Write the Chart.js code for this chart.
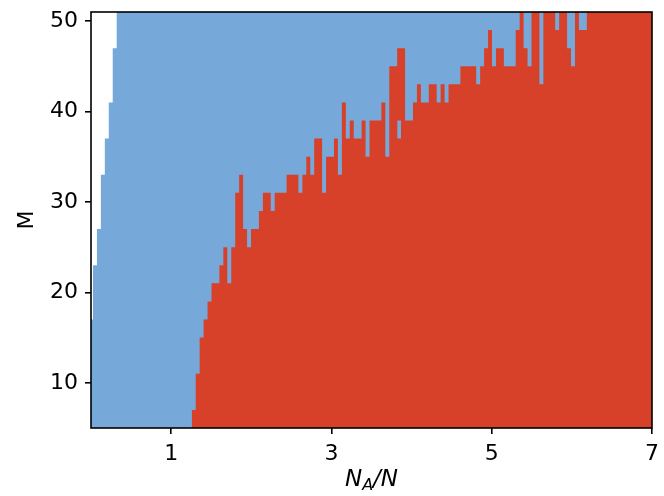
<!DOCTYPE html>
<html lang="en">
<head>
  <meta charset="UTF-8">
  <title>M vs N_A/N</title>
  <script src="https://cdn.jsdelivr.net/npm/chart.js"></script>
  <style>
    body {
      margin: 0;
      background: #fff;
    }

    #wrap {
      width: 664px;
      height: 496px;
    }
  </style>
</head>
<body>
  <div id="wrap"><canvas id="chart" width="664" height="496"></canvas></div>

  <script>
    // N_A/N scan: 143 columns from 0 to 7
    const ratioStep = 7 / 142;
    const ratioMax = 7;

    // upper edge (in M) of the blue region, column by column
    const blueTop = [
      17, 23, 27, 33, 37, 41, 47, 51, 51, 51,
      51, 51, 51, 51, 51, 51, 51, 51, 51, 51,
      51, 51, 51, 51, 51, 51, 51, 51, 51, 51,
      51, 51, 51, 51, 51, 51, 51, 51, 51, 51,
      51, 51, 51, 51, 51, 51, 51, 51, 51, 51,
      51, 51, 51, 51, 51, 51, 51, 51, 51, 51,
      51, 51, 51, 51, 51, 51, 51, 51, 51, 51,
      51, 51, 51, 51, 51, 51, 51, 51, 51, 51,
      51, 51, 51, 51, 51, 51, 51, 51, 51, 51,
      51, 51, 51, 51, 51, 51, 51, 51, 51, 51,
      51, 51, 51, 51, 51, 51, 51, 51, 51, 51,
      51, 51, 51, 51, 51, 51, 51, 51, 51, 51,
      51, 51, 51, 51, 51, 51, 51, 51, 51, 51,
      51, 51, 51, 51, 51, 51, 51, 51, 51, 51,
      51, 51, 51
    ];

    // upper edge (in M) of the red region, null where there is none
    const redTop = [
      null, null, null, null, null, null, null, null, null, null,
      null, null, null, null, null, null, null, null, null, null,
      null, null, null, null, null, null, 7, 11, 15, 17,
      19, 21, 21, 23, 25, 21, 25, 31, 33, 27,
      25, 27, 27, 29, 31, 31, 29, 31, 31, 31,
      33, 33, 33, 31, 33, 35, 33, 37, 37, 31,
      35, 35, 37, 33, 41, 37, 39, 37, 37, 39,
      35, 39, 39, 39, 41, 35, 45, 45, 47, 47,
      39, 39, 41, 43, 41, 41, 43, 43, 41, 43,
      41, 43, 43, 43, 45, 45, 45, 45, 43, 45,
      47, 49, 45, 47, 47, 45, 45, 45, 49, 51,
      47, 45, 51, 51, 43, 51, 51, 51, 49, 51,
      51, 47, 45, 51, 49, 49, 51, 51, 51, 51,
      51, 51, 51, 51, 51, 51, 51, 51, 51, 51,
      51, 51, 51
    ];

    // blue cell left inside the red region: column, lower and upper M edge
    const holeColumn = 78;
    const holeRange = [37, 39];

    const xTicks = [1, 3, 5, 7];
    const yTicks = [10, 20, 30, 40, 50];
    const mMin = 5, mMax = 51;

    const BLUE = '#76a9d9';
    const RED = '#d74029';

    // column centres
    const ratios = redTop.map((_, k) => k * ratioStep);

    // each column holds its value from its left edge to the next one
    function stepPoints(tops) {
      const pts = tops.map((m, k) => ({ x: Math.max(0, ratios[k] - ratioStep / 2), y: m }));
      pts.push({ x: ratioMax, y: tops[tops.length - 1] });
      return pts;
    }

    const holePoints = [
      { x: ratios[holeColumn] - ratioStep / 2, y: holeRange[1] },
      { x: ratios[holeColumn] + ratioStep / 2, y: holeRange[1] }
    ];

    const frameAndTitle = {
      id: 'frameAndTitle',
      afterDraw(chart) {
        const { ctx, chartArea: a } = chart;
        ctx.save();
        ctx.strokeStyle = '#000';
        ctx.lineWidth = 1.6;
        ctx.strokeRect(a.left, a.top, a.right - a.left, a.bottom - a.top);

        // x title N_A/N
        const big = 'italic 23px "DejaVu Sans"';
        const small = 'italic 16px "DejaVu Sans"';
        ctx.fillStyle = '#000';
        ctx.textBaseline = 'alphabetic';
        ctx.textAlign = 'left';
        ctx.font = big;
        const wN = ctx.measureText('N').width;
        const wRest = ctx.measureText('/N').width;
        ctx.font = small;
        const wA = ctx.measureText('A').width;
        const base = a.bottom + 58;
        let x = (a.left + a.right) / 2 - (wN + wA + wRest) / 2;
        ctx.font = big;
        ctx.fillText('N', x, base);
        x += wN;
        ctx.font = small;
        ctx.fillText('A', x, base + 4);
        x += wA;
        ctx.font = big;
        ctx.fillText('/N', x, base);
        ctx.restore();
      }
    };

    Chart.defaults.font.family = '"DejaVu Sans", sans-serif';
    Chart.defaults.color = '#000';

    new Chart(document.getElementById('chart'), {
      type: 'line',
      data: {
        datasets: [
          {
            label: 'hole',
            data: holePoints,
            fill: { value: holeRange[0] },
            backgroundColor: BLUE,
            order: 1
          },
          {
            label: 'red',
            data: stepPoints(redTop),
            fill: 'start',
            backgroundColor: RED,
            order: 2
          },
          {
            label: 'blue',
            data: stepPoints(blueTop),
            fill: 'start',
            backgroundColor: BLUE,
            order: 3
          }
        ]
      },
      options: {
        responsive: false,
        animation: false,
        events: [],
        layout: { padding: { top: 12, right: 12, left: 0, bottom: 0 } },
        elements: {
          line: { stepped: true, borderWidth: 0, borderColor: 'rgba(0,0,0,0)', tension: 0 },
          point: { radius: 0 }
        },
        plugins: {
          legend: { display: false },
          tooltip: { enabled: false }
        },
        scales: {
          x: {
            type: 'linear',
            min: 0,
            max: ratioMax,
            afterBuildTicks: s => { s.ticks = xTicks.map(v => ({ value: v })); },
            afterFit: s => { s.height = 68; s.paddingLeft = 0; s.paddingRight = 0; },
            ticks: { autoSkip: false, maxRotation: 0, padding: 7, font: { size: 22 }, color: '#000' },
            grid: { drawOnChartArea: false, drawTicks: true, tickLength: 6, color: '#000', lineWidth: 1.6 },
            border: { display: false }
          },
          y: {
            type: 'linear',
            min: mMin,
            max: mMax,
            afterBuildTicks: s => { s.ticks = yTicks.map(v => ({ value: v })); },
            afterFit: s => { s.width = 91; s.paddingTop = 0; s.paddingBottom = 0; },
            ticks: { autoSkip: false, padding: 7, font: { size: 22 }, color: '#000' },
            grid: { drawOnChartArea: false, drawTicks: true, tickLength: 6, color: '#000', lineWidth: 1.6 },
            border: { display: false },
            title: { display: true, text: 'M', font: { size: 22 }, color: '#000', padding: { top: 14, bottom: 0 } }
          }
        }
      },
      plugins: [frameAndTitle]
    });
  </script>
</body>
</html>
